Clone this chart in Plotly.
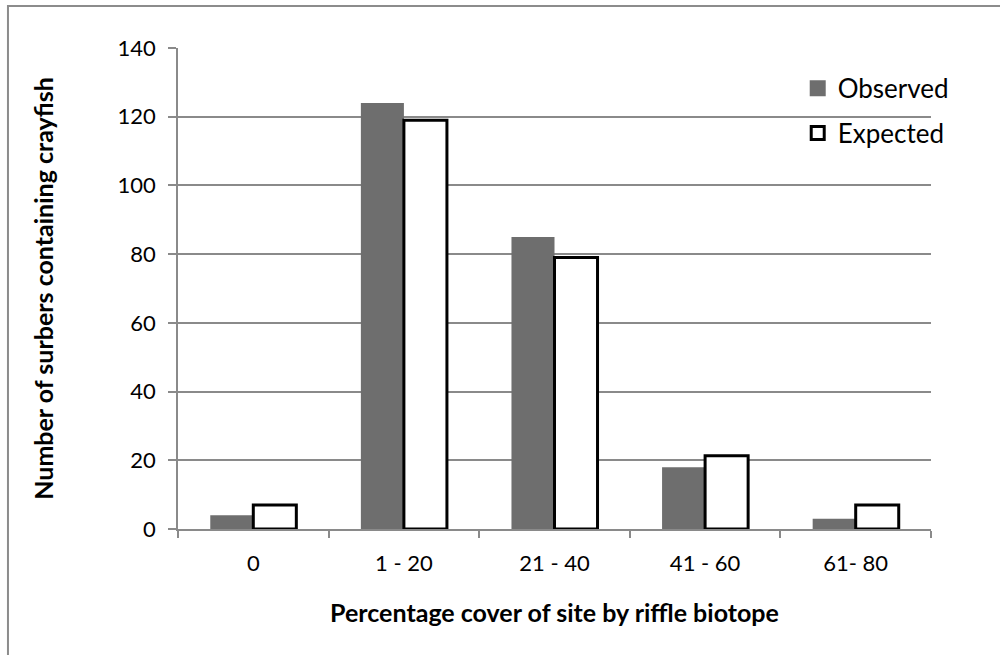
import plotly.graph_objects as go

categories = ["0", "1 - 20", "21 - 40", "41 - 60", "61- 80"]
observed = [4, 124, 85, 18, 3]
expected = [7, 119, 79, 21.3, 7]
y_ticks = [0, 20, 40, 60, 80, 100, 120, 140]

FONT = "Lato"
GRID = "#8a8a8a"
OBS_COLOR = "#6e6e6e"

fig = go.Figure()
fig.add_trace(go.Bar(
    x=categories, y=observed, name="Observed", showlegend=False,
    marker=dict(color=OBS_COLOR, line=dict(width=0)),
))
fig.add_trace(go.Bar(
    x=categories, y=expected, name="Expected", showlegend=False,
    marker=dict(color="white", line=dict(color="black", width=3)),
))
# legend-only entries
fig.add_trace(go.Scatter(
    x=[None], y=[None], mode="markers", name="Observed", legendgroup="obs",
    marker=dict(symbol="square", size=16, color=OBS_COLOR, line=dict(width=0)),
))
fig.add_trace(go.Scatter(
    x=[None], y=[None], mode="markers", name="Expected", legendgroup="exp",
    marker=dict(symbol="square", size=13, color="white", line=dict(color="black", width=3)),
))

fig.update_layout(
    width=1000, height=655,
    margin=dict(l=178, r=69, t=48, b=126),
    paper_bgcolor="white", plot_bgcolor="white",
    barmode="group", bargap=0.4286, bargroupgap=0,
    font=dict(family=FONT, size=22, color="black"),
    showlegend=True,
    legend=dict(
        x=0.823, y=0.965, xanchor="left", yanchor="top",
        font=dict(family=FONT, size=26, color="black"),
        bgcolor="rgba(0,0,0,0)", itemsizing="trace",
        tracegroupgap=8, itemwidth=30,
    ),
    xaxis=dict(
        type="category",
        showline=True, linecolor=GRID, linewidth=1.5,
        ticks="outside", tickson="boundaries", ticklen=7, tickcolor=GRID, tickwidth=1.5,
        showgrid=False, ticklabelstandoff=14,
        tickfont=dict(family=FONT, size=22),
        title=dict(text="<b>Percentage cover of site by riffle biotope</b>",
                   font=dict(family=FONT, size=25), standoff=29),
    ),
    yaxis=dict(
        range=[0, 140], tickvals=y_ticks,
        showline=True, linecolor=GRID, linewidth=1.5,
        ticks="outside", ticklen=8, tickcolor=GRID, tickwidth=1.5,
        showgrid=True, gridcolor=GRID, gridwidth=1.5,
        zeroline=False, ticklabelstandoff=8,
        tickfont=dict(family=FONT, size=22),
        title=dict(text="<b>Number of surbers containing crayfish</b>",
                   font=dict(family=FONT, size=25), standoff=57),
    ),
    shapes=[dict(
        type="rect", xref="paper", yref="paper",
        x0=-0.2258, x1=1.3, y0=-0.5, y1=1.0873,
        line=dict(color="#8c8c8c", width=2), fillcolor="rgba(0,0,0,0)",
        layer="below",
    )],
)

fig.write_html("out.html", config={"displayModeBar": False},
               post_script="document.body.style.margin='0px';")
